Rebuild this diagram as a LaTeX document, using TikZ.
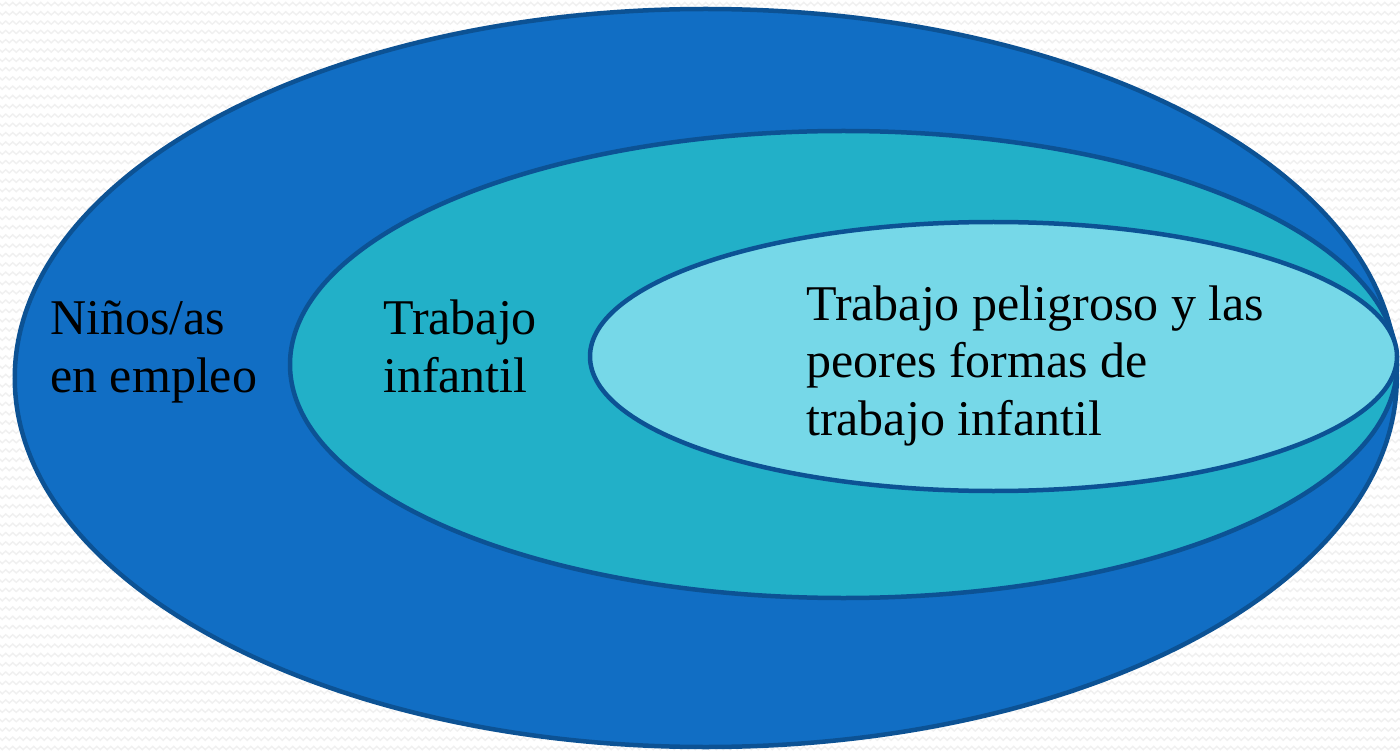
\documentclass[tikz,border=0pt]{standalone}
\usepackage{fontspec}
\setmainfont{Liberation Serif}
\usetikzlibrary{decorations.pathmorphing}
\definecolor{outerblue}{RGB}{17,110,196}
\definecolor{midblue}{RGB}{34,176,200}
\definecolor{innerblue}{RGB}{118,216,232}
\definecolor{edgeblue}{RGB}{12,82,148}
\definecolor{zig}{RGB}{240,240,240}
\tikzset{
  ring/.style={draw=edgeblue, line width=4.5pt},
  lbl/.style={anchor=base west, inner sep=0pt, align=left, text=black,
    font=\fontsize{50}{57.5}\selectfont},
  bgzig/.style={draw=zig, line width=1.4pt,
    decorate, decoration={zigzag, segment length=7pt, amplitude=1.6pt}}
}
\begin{document}
\begin{tikzpicture}[x=1pt,y=-1pt]
  \useasboundingbox (0,0) rectangle (1400,751);
  \fill[white] (0,0) rectangle (1400,751);
  \begin{scope}
    \clip (0,0) rectangle (1400,751);
    \foreach \k in {0,...,81} {
      \draw[bgzig] (-10,{4+9.3*\k}) -- (1410,{4+9.3*\k});
    }
  \end{scope}
  \filldraw[ring, fill=outerblue] (705.75,378) ellipse [x radius=691, y radius=369];
  \filldraw[ring, fill=midblue] (843.5,364.5) ellipse [x radius=553.5, y radius=233.5];
  \filldraw[ring, fill=innerblue] (993.5,356.5) ellipse [x radius=403.5, y radius=134.5];
  \node[lbl] (ninos) at (50,392) {Niños/as\\en empleo};
  \node[lbl] (trabajo) at (383,392) {Trabajo\\infantil};
  \node[lbl] (peligroso) at (806,435) {Trabajo peligroso y las\\peores formas de\\trabajo infantil};
\end{tikzpicture}
\end{document}
